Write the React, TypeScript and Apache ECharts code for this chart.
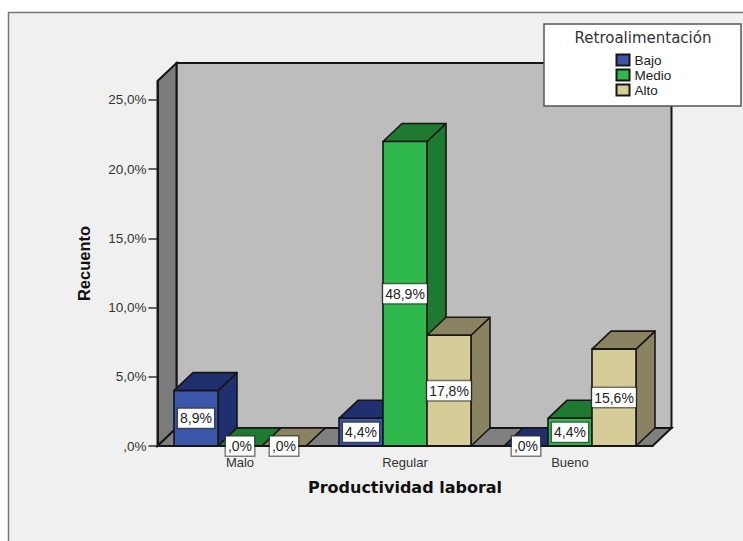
import React, { useEffect, useRef } from "react";
import * as echarts from "echarts";

// Recuento por nivel de productividad; cada barra se etiqueta con su porcentaje del total.
const categories = ["Malo", "Regular", "Bueno"];
const bajo = [4, 2, 0];
const medio = [0, 22, 2];
const alto = [0, 8, 7];
const totalCasos = 45;
const yTicks = [0, 5, 10, 15, 20, 25];
const legendTitle = "Retroalimentación";

// Profundidad de la proyección 3D, en píxeles.
const DEPTH_X = 19;
const DEPTH_Y = 18;
const BAR_SHARE = 44 / 165;
const EDGE = "#161616";
const LABEL_FONT = "14px 'Liberation Sans', Arial, sans-serif";

const palette = {
  Bajo: { front: "#3b56a9", dark: "#20306e" },
  Medio: { front: "#2fb84b", dark: "#1e7a31" },
  Alto: { front: "#d5cc98", dark: "#8a8362" },
};

const fmtNum = (v: number) => v.toFixed(1).replace(".", ",").replace(/^0/, "") + "%";
const fmtAxis = (v: number) => fmtNum(v);

function renderWalls(params: any) {
  const { x, y, width, height } = params.coordSys;
  const bottom = y + height;
  const right = x + width;
  const edge = { stroke: EDGE, lineWidth: 2 };
  return {
    type: "group",
    children: [
      {
        type: "rect",
        shape: { x: x + DEPTH_X, y: y - DEPTH_Y, width, height },
        style: { fill: "#bdbdbd", ...edge },
      },
      {
        type: "polygon",
        shape: { points: [[x, bottom], [x, y], [x + DEPTH_X, y - DEPTH_Y], [x + DEPTH_X, bottom - DEPTH_Y]] },
        style: { fill: "#7b7b7b", ...edge },
      },
      {
        type: "polygon",
        shape: { points: [[x, bottom], [x + DEPTH_X, bottom - DEPTH_Y], [right + DEPTH_X, bottom - DEPTH_Y], [right, bottom]] },
        style: { fill: "#808080", ...edge },
      },
    ],
  };
}

function barRenderer(slot: number, colors: { front: string; dark: string }) {
  return (_params: any, api: any) => {
    const base = api.coord([api.value(0), 0]);
    const top = api.coord([api.value(0), api.value(1)]);
    const band = api.size([1, 0])[0];
    const w = band * BAR_SHARE;
    const x0 = base[0] + (slot - 1.5) * w;
    const x1 = x0 + w;
    const yT = top[1];
    const yB = base[1];
    const edge = { stroke: EDGE, lineWidth: 1.6, lineJoin: "round" };
    return {
      type: "group",
      children: [
        {
          type: "polygon",
          shape: { points: [[x1, yB], [x1 + DEPTH_X, yB - DEPTH_Y], [x1 + DEPTH_X, yT - DEPTH_Y], [x1, yT]] },
          style: { fill: colors.dark, ...edge },
        },
        {
          type: "polygon",
          shape: { points: [[x0, yT], [x0 + DEPTH_X, yT - DEPTH_Y], [x1 + DEPTH_X, yT - DEPTH_Y], [x1, yT]] },
          style: { fill: colors.dark, ...edge },
        },
        {
          type: "rect",
          shape: { x: x0, y: yT, width: w, height: yB - yT },
          style: { fill: colors.front, ...edge },
        },
      ],
    };
  };
}

function labelRenderer(slot: number) {
  return (_params: any, api: any) => {
    const base = api.coord([api.value(0), 0]);
    const top = api.coord([api.value(0), api.value(1)]);
    const band = api.size([1, 0])[0];
    const w = band * BAR_SHARE;
    const cx = base[0] + (slot - 1) * w;
    const cy = (base[1] + top[1]) / 2;
    return {
      type: "text",
      x: cx,
      y: cy,
      style: {
        text: fmtNum((api.value(1) / totalCasos) * 100),
        font: LABEL_FONT,
        fill: "#222222",
        align: "center",
        verticalAlign: "middle",
        backgroundColor: "#ffffff",
        borderColor: "rgba(50,50,50,0.6)",
        borderWidth: 1.5,
        padding: [3, 2, 2, 2],
      },
    };
  };
}

const groups = [
  { name: "Bajo", values: bajo, colors: palette.Bajo },
  { name: "Medio", values: medio, colors: palette.Medio },
  { name: "Alto", values: alto, colors: palette.Alto },
];

export default function App() {
  const ref = useRef<HTMLDivElement>(null);

  useEffect(() => {
    if (!ref.current) return;
    const chart = echarts.init(ref.current, undefined, { renderer: "svg" });
    chart.setOption({
      animation: false,
      backgroundColor: "#ffffff",
      textStyle: { fontFamily: "'Liberation Sans', Arial, sans-serif" },
      grid: { left: 157.5, top: 81, width: 495, height: 365, containLabel: false },
      xAxis: {
        type: "category",
        data: categories,
        z: 5,
        name: "Productividad laboral",
        nameLocation: "middle",
        nameGap: 33,
        nameTextStyle: { fontFamily: "'DejaVu Sans', sans-serif", fontWeight: "bold", fontSize: 16, color: "#111111" },
        axisLine: { lineStyle: { color: EDGE, width: 2 } },
        axisTick: { alignWithLabel: true, length: 7, lineStyle: { color: "#333333", width: 1.5 } },
        axisLabel: { fontSize: 13, color: "#333333", margin: 10 },
      },
      yAxis: {
        type: "value",
        min: 0,
        max: 26.37,
        z: 5,
        name: "Recuento",
        nameLocation: "middle",
        nameRotate: 90,
        nameGap: 65,
        nameTextStyle: { fontWeight: "bold", fontSize: 16.5, color: "#111111" },
        splitLine: { show: false },
        axisLine: { show: true, lineStyle: { color: EDGE, width: 2 } },
        axisTick: { show: true, length: 9, customValues: yTicks, lineStyle: { color: "#333333", width: 1.5 } },
        axisLabel: { fontSize: 13.5, color: "#333333", margin: 11, customValues: yTicks, formatter: fmtAxis },
      },
      legend: {
        data: groups.map((g) => g.name),
        orient: "vertical",
        left: 615.5,
        top: 53,
        padding: 0,
        itemWidth: 13,
        itemHeight: 11,
        itemGap: 1,
        itemTextGap: 3,
        icon: "rect",
        textStyle: { fontSize: 13.5, color: "#222222" },
        z: 8,
      },
      graphic: [
        {
          type: "rect",
          z: 0,
          silent: true,
          shape: { x: 8.5, y: 12.5, width: 800, height: 600 },
          style: { fill: "#f0f0f0", stroke: "#777777", lineWidth: 1.5 },
        },
        {
          type: "rect",
          z: 7,
          silent: true,
          shape: { x: 544, y: 24, width: 197, height: 82 },
          style: { fill: "#ffffff", stroke: "#555555", lineWidth: 1.5 },
        },
        {
          type: "text",
          z: 8,
          silent: true,
          x: 643,
          y: 38,
          style: {
            text: legendTitle,
            font: "15px 'DejaVu Sans', sans-serif",
            fill: "#333333",
            align: "center",
            verticalAlign: "middle",
          },
        },
      ],
      series: [
        {
          type: "custom",
          name: "paredes",
          silent: true,
          z: 1,
          clip: false,
          coordinateSystem: "cartesian2d",
          data: [[0, 0]],
          renderItem: renderWalls,
        },
        ...groups.map((g, i) => ({
          type: "custom",
          name: g.name,
          silent: true,
          z: 2,
          clip: false,
          coordinateSystem: "cartesian2d",
          itemStyle: { color: g.colors.front, borderColor: EDGE, borderWidth: 1.5 },
          encode: { x: 0, y: 1 },
          data: g.values.map((v, c) => [c, v]),
          renderItem: barRenderer(i, g.colors),
        })),
        ...groups.map((g, i) => ({
          type: "custom",
          name: g.name + " etiquetas",
          silent: true,
          z: 6,
          clip: false,
          coordinateSystem: "cartesian2d",
          encode: { x: 0, y: 1 },
          data: g.values.map((v, c) => [c, v]),
          renderItem: labelRenderer(i),
        })),
      ],
    });
    return () => chart.dispose();
  }, []);

  return <div ref={ref} style={{ position: "absolute", left: 0, top: 0, width: 743, height: 541 }} />;
}
